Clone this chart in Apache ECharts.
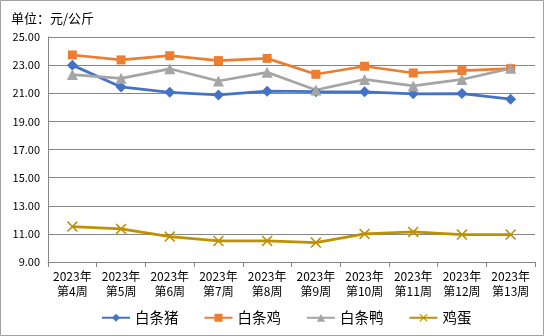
<!DOCTYPE html>
<html><head><meta charset="utf-8">
<script src="https://cdn.jsdelivr.net/npm/echarts@6/dist/echarts.min.js"></script>
<style>html,body{margin:0;padding:0;background:#fff}#c{width:544px;height:336px}</style>
</head><body><div id="c"></div>
<script>
var categories = ['2023年\n第4周','2023年\n第5周','2023年\n第6周','2023年\n第7周','2023年\n第8周','2023年\n第9周','2023年\n第10周','2023年\n第11周','2023年\n第12周','2023年\n第13周'];
var pork = [23.00, 21.45, 21.07, 20.88, 21.15, 21.11, 21.10, 20.96, 20.98, 20.58];
var chicken = [23.72, 23.37, 23.67, 23.32, 23.48, 22.35, 22.92, 22.44, 22.61, 22.75];
var duck = [22.33, 22.06, 22.74, 21.87, 22.49, 21.23, 21.98, 21.52, 21.98, 22.77];
var egg = [11.52, 11.35, 10.81, 10.50, 10.50, 10.38, 11.00, 11.14, 10.95, 10.95];
var yTicks = {min: 9, max: 25, interval: 2};

var font = '"Noto Sans CJK SC", "Liberation Sans", sans-serif';
var crossPath = 'path://M0,1L1,0L5,4L9,0L10,1L6,5L10,9L9,10L5,6L1,10L0,9L4,5Z';
function s(name, data, color, symbol, size) {
  return {name: name, type: 'line', data: data, symbol: symbol, symbolSize: size,
    showSymbol: true, lineStyle: {color: color, width: 2.75},
    itemStyle: {color: color}, animation: false};
}
var chart = echarts.init(document.getElementById('c'));
chart.setOption({
  animation: false,
  textStyle: {fontFamily: font, color: '#000'},
  graphic: [{type: 'rect', shape: {x: 0.5, y: 0.5, width: 543, height: 335}, style: {fill: 'none', stroke: '#a0a0a0', lineWidth: 1}}],
  title: {text: '单位：元/公斤', left: 6, top: 7, textStyle: {fontSize: 13, fontWeight: 'normal', color: '#000', fontFamily: font}},
  grid: {left: 48, right: 9, top: 37, bottom: 74},
  legend: {bottom: 6, left: 96, itemWidth: 28, itemHeight: 10, itemGap: 25,
    textStyle: {fontSize: 14.5, color: '#000', fontFamily: font},
    data: ['白条猪','白条鸡','白条鸭','鸡蛋']},
  xAxis: {type: 'category', data: categories, boundaryGap: true,
    axisLine: {lineStyle: {color: '#868686', width: 1}},
    axisTick: {show: true, length: 5, lineStyle: {color: '#868686'}},
    axisLabel: {fontSize: 12, color: '#000', lineHeight: 15, margin: 7, interval: 0, fontFamily: font}},
  yAxis: {type: 'value', min: yTicks.min, max: yTicks.max, interval: yTicks.interval,
    axisLine: {show: true, lineStyle: {color: '#868686'}},
    axisTick: {show: false},
    splitLine: {lineStyle: {color: '#868686', width: 1}},
    axisLabel: {fontSize: 11, color: '#000', margin: 8, fontFamily: font, formatter: function(v){return v.toFixed(2);}}},
  series: [
    s('白条猪', pork, '#4472C4', 'diamond', 11),
    s('白条鸡', chicken, '#ED7D31', 'rect', 9),
    s('白条鸭', duck, '#A5A5A5', 'triangle', 11),
    s('鸡蛋', egg, '#BF9000', crossPath, 11)
  ]
});
</script></body></html>
